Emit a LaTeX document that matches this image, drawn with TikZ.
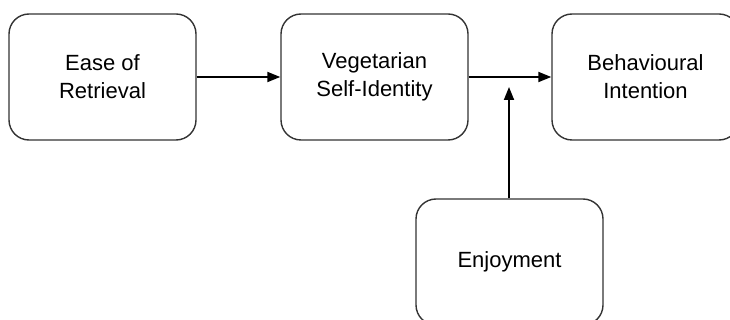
\documentclass[tikz,border=0pt]{standalone}
\usepackage{fontspec}
\setmainfont{Liberation Sans}
\usetikzlibrary{arrows.meta}
\begin{document}
\begin{tikzpicture}[x=1pt,y=-1pt,
  box/.style={draw=black!80,line width=1.4pt,rounded corners=20pt,minimum width=187pt,minimum height=126pt,align=center,font=\fontsize{22}{28}\selectfont,inner sep=0pt},
  conn/.style={line width=1.8pt,-{Triangle[length=13pt,width=10pt]}}]
\useasboundingbox (0,0) rectangle (730,320);
\node[box] (ease) at (102.5,77) {Ease of\\Retrieval};
\node[box] (veg) at (374.5,77) {Vegetarian\\Self-Identity};
\node[box] (beh) at (645.5,77) {Behavioural\\Intention};
\node[box] (enj) at (509.5,262) {Enjoyment};
\coordinate (m) at (509,87);
\draw[conn] (ease) -- (veg);
\draw[conn] (veg) -- (beh);
\draw[conn] (enj.north -| m) -- (m);
\end{tikzpicture}
\end{document}
